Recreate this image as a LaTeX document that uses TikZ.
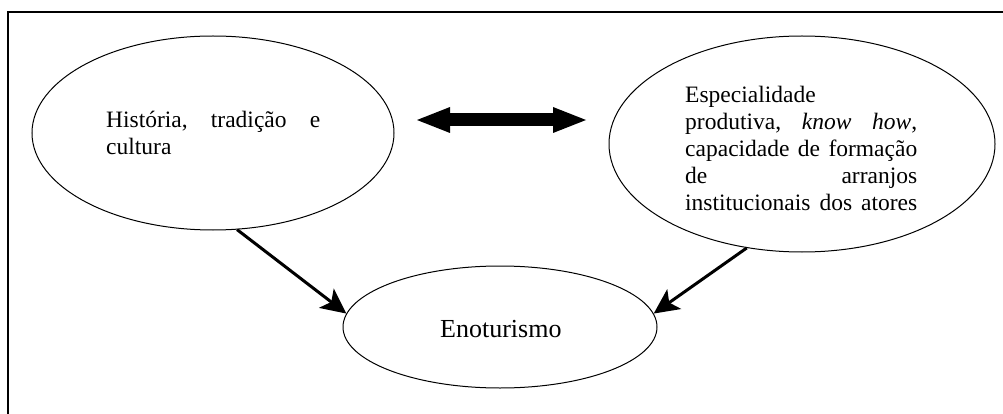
\documentclass[tikz,border=0pt]{standalone}
\usepackage{fontspec}
\setmainfont{Liberation Serif}
\usetikzlibrary{arrows.meta,shapes.geometric}
\newcommand{\jline}[2]{\leavevmode\hbox to #1{#2}}
\begin{document}
\begin{tikzpicture}[x=1pt,y=-1pt,
  oval/.style={draw,ellipse,line width=1pt,inner sep=0pt},
  txt/.style={inner sep=0pt,font=\fontsize{23.5}{26.8}\selectfont,align=left},
  conn/.style={line width=3pt,-{Stealth[length=25pt,width=24pt,inset=6pt]}},
  dbl/.style={line width=13pt,{Triangle[length=33pt,width=26pt,line width=0pt]}-{Triangle[length=33pt,width=26pt,line width=0pt]}}]
\useasboundingbox (0,0) rectangle (1003,414);
\clip (0,0) rectangle (1003,414);
\draw[line width=2pt] (8,12) rectangle (1030,440);
\node[oval,minimum width=362pt,minimum height=194pt] (L) at (213,133) {};
\node[oval,minimum width=386pt,minimum height=216pt] (R) at (802,144) {};
\node[oval,minimum width=314pt,minimum height=122pt] (B) at (500,327) {};
\node[txt,text width=250pt,anchor=base west] (Lt) at (106,128)
  {\jline{214pt}{História,\hfill tradição\hfill e}\\cultura};
\node[txt,text width=250pt,anchor=base west] (Rt) at (685,103)
  {Especialidade\\
   \jline{232pt}{produtiva,\hfill \textit{know}\hfill \textit{how},}\\
   \jline{232pt}{capacidade\hfill de\hfill formação}\\
   \jline{232pt}{de\hfill arranjos}\\
   \jline{232pt}{institucionais\hfill dos\hfill atores}};
\node[txt,font=\fontsize{26}{30}\selectfont,anchor=base west] (Bt) at (440,337) {Enoturismo};
\coordinate (da) at (417,120);
\coordinate (db) at (586,120);
\draw[dbl] (da) -- (db);
\draw[conn] (L.-76) -- (B.175);
\draw[conn] (R.-118) -- (B.5);
\end{tikzpicture}
\end{document}
